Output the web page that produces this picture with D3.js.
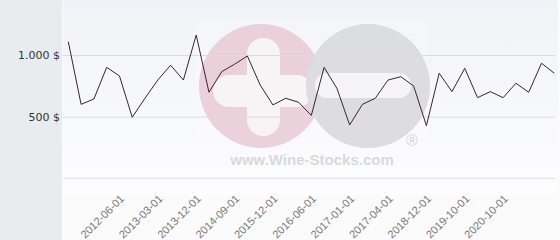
<!DOCTYPE html>
<html>
<head>
<meta charset="utf-8">
<script src="https://cdn.jsdelivr.net/npm/d3@7"></script>
<style>
  body { margin: 0; background: #fbfbfc; }
  svg { display: block; }
</style>
</head>
<body>
<div id="chart"></div>
<script>
var width = 560, height = 240;

var dates = ["2011-06-01", "2011-09-01", "2011-12-01", "2012-03-01", "2012-06-01",
    "2012-09-01", "2012-12-01", "2013-03-01", "2013-06-01", "2013-09-01",
    "2013-12-01", "2014-03-01", "2014-06-01", "2014-09-01", "2014-12-01",
    "2015-06-01", "2015-12-01", "2016-02-01", "2016-04-01", "2016-06-01",
    "2016-09-01", "2016-11-01", "2017-01-01", "2017-02-01", "2017-03-01",
    "2017-04-01", "2017-10-01", "2018-06-01", "2018-12-01", "2019-03-01",
    "2019-07-01", "2019-10-01", "2020-02-01", "2020-06-01", "2020-10-01",
    "2021-01-01", "2021-04-01", "2021-07-01", "2021-10-01"];
var prices = [1108, 600, 643, 900, 830, 495, 650, 797, 917, 797,
    1162, 698, 865, 925, 992, 757, 595, 649, 617, 510,
    900, 730, 433, 600, 649, 797, 824, 749, 427, 852,
    703, 892, 654, 703, 654, 771, 698, 933, 852];
var labelDates = ["2012-06-01", "2013-03-01", "2013-12-01", "2014-09-01", "2015-12-01",
    "2016-06-01", "2017-01-01", "2017-04-01", "2018-12-01", "2019-10-01", "2020-10-01"];
var yTicks = [500, 1000];

var plot = { left: 63, right: 558, top: 0, bottom: 196 };

var svg = d3.select("#chart").append("svg").attr("width", width).attr("height", height);

var grad = svg.append("defs").append("linearGradient")
    .attr("id", "bg").attr("x1", 0).attr("y1", 0).attr("x2", 0).attr("y2", 1);
grad.append("stop").attr("offset", "0%").attr("stop-color", "#f1f2f7");
grad.append("stop").attr("offset", "100%").attr("stop-color", "#fdfdfe");

// left panel + plot background
svg.append("rect").attr("x", 0).attr("y", 0).attr("width", plot.left - 1).attr("height", height)
    .attr("fill", "#e8ecef");
svg.append("rect").attr("x", plot.left).attr("y", plot.top)
    .attr("width", plot.right - plot.left).attr("height", plot.bottom - plot.top)
    .attr("fill", "url(#bg)");

var x = d3.scalePoint().domain(dates).range([68.3, 554.3]);
var y = d3.scaleLinear().domain([0, 1000]).range([178.3, 55]);

// watermark
var wm = svg.append("g").attr("opacity", 0.85);
wm.append("rect").attr("x", 195).attr("y", 20).attr("width", 233).attr("height", 153)
    .attr("fill", "#ffffff").attr("opacity", 0.3);
wm.append("circle").attr("cx", 261).attr("cy", 86).attr("r", 62).attr("fill", "#e9cbd4");
wm.append("rect").attr("x", 247).attr("y", 38).attr("width", 33).attr("height", 98)
    .attr("rx", 16).attr("fill", "#f8f4f6");
wm.append("rect").attr("x", 213).attr("y", 75).attr("width", 100).attr("height", 32)
    .attr("rx", 16).attr("fill", "#f8f4f6");
wm.append("circle").attr("cx", 368).attr("cy", 86).attr("r", 62).attr("fill", "#d9d9db");
wm.append("rect").attr("x", 315).attr("y", 73).attr("width", 96).attr("height", 25)
    .attr("rx", 12).attr("fill", "#f5f5f7");
wm.append("text").attr("x", 312).attr("y", 165).attr("text-anchor", "middle")
    .style("font", "bold 15px 'Liberation Sans', Arial, sans-serif")
    .attr("fill", "#d4d4d6").text("www.Wine-Stocks.com");
wm.append("text").attr("x", 412).attr("y", 146).attr("text-anchor", "middle")
    .style("font", "16px 'Liberation Sans', Arial, sans-serif")
    .attr("fill", "#cfcfd1").text("®");

// gridlines
svg.append("g")
    .attr("transform", "translate(" + plot.left + ",0)")
    .call(d3.axisLeft(y).tickValues(yTicks).tickSize(-(555 - plot.left)).tickFormat(""))
    .call(function (g) { g.select(".domain").remove(); })
    .selectAll("line").attr("stroke", "#dcdcdf");

// bottom axis line
svg.append("line").attr("x1", plot.left).attr("x2", 555)
    .attr("y1", y(0)).attr("y2", y(0)).attr("stroke", "#dcdcdf");

// y labels
svg.append("g")
    .attr("transform", "translate(60,0)")
    .call(d3.axisLeft(y).tickValues(yTicks).tickSize(0).tickPadding(0)
        .tickFormat(function (d) { return d3.format(",")(d).replace(",", ".") + " $"; }))
    .call(function (g) { g.select(".domain").remove(); })
    .selectAll("text")
    .attr("fill", "#333")
    .style("font", "11px 'DejaVu Sans', sans-serif");

// x labels
svg.append("g")
    .attr("transform", "translate(0," + y(0) + ")")
    .call(d3.axisBottom(x).tickValues(labelDates).tickSize(0))
    .call(function (g) { g.select(".domain").remove(); })
    .selectAll("text")
    .attr("y", 0).attr("dy", 0)
    .attr("text-anchor", "end")
    .attr("transform", "translate(5,21) rotate(-45)")
    .attr("fill", "#777")
    .style("font", "11px 'Liberation Sans', Arial, sans-serif");

// price line
var line = d3.line()
    .x(function (d, i) { return x(dates[i]); })
    .y(function (d) { return y(d); });

svg.append("path")
    .datum(prices)
    .attr("fill", "none")
    .attr("stroke", "#3a2330")
    .attr("stroke-width", 1)
    .attr("d", line);
</script>
</body>
</html>
